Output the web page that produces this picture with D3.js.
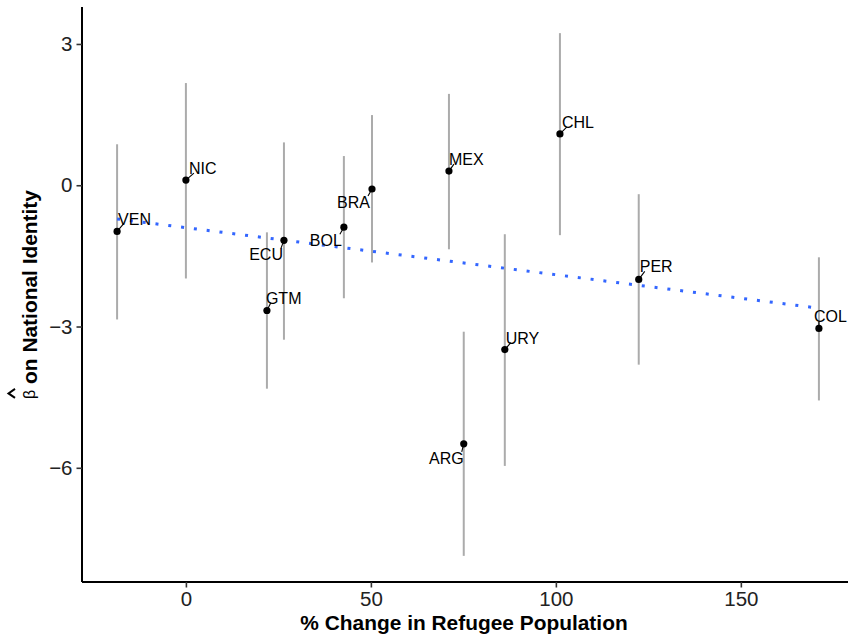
<!DOCTYPE html>
<html>
<head>
<meta charset="utf-8">
<script src="https://cdn.jsdelivr.net/npm/d3@7"></script>
<style>
  body { margin: 0; background: #fff; }
  svg { display: block; font-family: "Liberation Sans", Arial, Helvetica, sans-serif; }
</style>
</head>
<body>
<svg id="chart" width="848" height="636"></svg>
<script>
// country estimates
const countries = ["VEN", "NIC", "GTM", "ECU", "BOL", "BRA", "MEX", "CHL", "PER", "COL", "URY", "ARG"];
const pctChange = [-18.6, 0, 21.9, 26.5, 42.7, 50.3, 71.1, 101.1, 122.4, 171.1, 86.2, 75.1];
const estimate = [-0.98, 0.11, -2.66, -1.17, -0.89, -0.08, 0.30, 1.09, -2.00, -3.04, -3.49, -5.49];
const ciLow = [-2.85, -1.98, -4.32, -3.28, -2.40, -1.64, -1.36, -1.06, -3.81, -4.57, -5.96, -7.87];
const ciHigh = [0.87, 2.17, -1.00, 0.91, 0.62, 1.49, 1.94, 3.23, -0.19, -1.53, -1.04, -3.11];

const xTicks = [0, 50, 100, 150];
const yTicks = [3, 0, -3, -6];

// where ggrepel ended up putting each label (pixels from the point)
const labelPos = {
  VEN: [1, -6, "start"], NIC: [3, -6, "start"], GTM: [-1, -7, "start"],
  ECU: [-1, 20, "end"], BOL: [-2, 19, "end"], BRA: [-2, 19, "end"],
  MEX: [0, -6, "start"], CHL: [2, -6, "start"], PER: [1, -7, "start"],
  COL: [-5, -6, "start"], URY: [1, -6, "start"], ARG: [0, 20, "end"]
};

const data = countries.map((c, i) => ({
  country: c, x: pctChange[i], y: estimate[i], lo: ciLow[i], hi: ciHigh[i]
}));

// panel (right edge runs past the picture, as in the original)
const pLeft = 82, pRight = 854, pTop = 7, pBottom = 582;

function expand(ext) {
  let pad = (ext[1] - ext[0]) * 0.05;
  return [ext[0] - pad, ext[1] + pad];
}

const x = d3.scaleLinear()
  .domain(expand(d3.extent(pctChange)))
  .range([pLeft, pRight]);
const y = d3.scaleLinear()
  .domain(expand([d3.min(ciLow), d3.max(ciHigh)]))
  .range([pBottom, pTop]);

const svg = d3.select("#chart");

// error bars
svg.append("g")
  .selectAll("line")
  .data(data)
  .enter().append("line")
    .attr("x1", d => x(d.x)).attr("x2", d => x(d.x))
    .attr("y1", d => y(d.lo)).attr("y2", d => y(d.hi))
    .attr("stroke", "#ababab")
    .attr("stroke-width", 2);

// lm fit on the point estimates
let mx = d3.mean(pctChange), my = d3.mean(estimate);
let sxy = d3.sum(data, d => (d.x - mx) * (d.y - my));
let sxx = d3.sum(data, d => (d.x - mx) * (d.x - mx));
let slope = sxy / sxx;
let icpt = my - slope * mx;
let xr = d3.extent(pctChange);

svg.append("line")
  .attr("x1", x(xr[0])).attr("y1", y(icpt + slope * xr[0]))
  .attr("x2", x(xr[1])).attr("y2", y(icpt + slope * xr[1]))
  .attr("stroke", "#3366ff")
  .attr("stroke-width", 3)
  .attr("stroke-dasharray", "3 9.9");

// leader segments
svg.append("g")
  .selectAll("line")
  .data(data)
  .enter().append("line")
    .attr("x1", d => x(d.x))
    .attr("y1", d => y(d.y))
    .attr("x2", d => {
      let p = labelPos[d.country];
      return x(d.x) + (p[2] == "end" ? p[0] - 2 : p[0] + 5);
    })
    .attr("y2", d => {
      let p = labelPos[d.country];
      return y(d.y) + (p[2] == "end" ? p[1] - 12 : p[1] - 1);
    })
    .attr("stroke", "#000")
    .attr("stroke-width", 1.1);

// points
svg.append("g")
  .selectAll("circle")
  .data(data)
  .enter().append("circle")
    .attr("cx", d => x(d.x))
    .attr("cy", d => y(d.y))
    .attr("r", 3.6)
    .attr("fill", "#000");

// labels
svg.append("g")
  .selectAll("text")
  .data(data)
  .enter().append("text")
    .attr("x", d => x(d.x) + labelPos[d.country][0])
    .attr("y", d => y(d.y) + labelPos[d.country][1])
    .attr("text-anchor", d => labelPos[d.country][2])
    .attr("font-size", 16)
    .attr("fill", "#000")
    .text(d => d.country);

// axes
const xAxis = svg.append("g")
  .attr("transform", `translate(0,${pBottom})`)
  .call(d3.axisBottom(x).tickValues(xTicks).tickSize(5.5).tickPadding(4)
    .tickFormat(d3.format("d")));
const yAxis = svg.append("g")
  .attr("transform", `translate(${pLeft},0)`)
  .call(d3.axisLeft(y).tickValues(yTicks).tickSize(5.5).tickPadding(4)
    .tickFormat(d => d < 0 ? "\u2212" + Math.abs(d) : d));

[xAxis, yAxis].forEach(a => {
  a.select(".domain").attr("stroke", "#000").attr("stroke-width", 2);
  a.selectAll(".tick line").attr("stroke", "#333").attr("stroke-width", 1.6);
  a.selectAll(".tick text")
    .attr("fill", "#222")
    .attr("font-size", 20.5)
    .attr("font-family", "'Liberation Sans', Arial, sans-serif");
});
xAxis.select(".domain").attr("d", `M${pLeft},0H${pRight}`);
yAxis.select(".domain").attr("d", `M0,${pTop}V${pBottom}`);

// axis titles
svg.append("text")
  .attr("x", (pLeft + pRight) / 2 - 4)
  .attr("y", 630)
  .attr("text-anchor", "middle")
  .attr("font-size", 20.9)
  .attr("font-weight", "bold")
  .attr("fill", "#000")
  .text("% Change in Refugee Population");

// y title: hat(beta) then bold text, read bottom to top
let cy = (pTop + pBottom) / 2;
let titleRest = svg.append("text")
  .attr("font-size", 20.9)
  .attr("font-weight", "bold")
  .attr("fill", "#000")
  .text("on National Identity");
let restLen = titleRest.node().getComputedTextLength();
let betaW = 10, gap = 5;
let startY = cy + (restLen + betaW + gap) / 2;
titleRest.attr("transform", `translate(37,${startY - betaW - gap}) rotate(-90)`);

svg.append("text")
  .attr("transform", `translate(35,${startY}) rotate(-90)`)
  .attr("font-size", 16)
  .attr("fill", "#000")
  .text("\u03b2");

svg.append("path")
  .attr("d", `M15,${startY - 1}L8.5,${startY - betaW / 2 - 0.5}L15,${startY - betaW}`)
  .attr("fill", "none")
  .attr("stroke", "#000")
  .attr("stroke-width", 2);
</script>
</body>
</html>
